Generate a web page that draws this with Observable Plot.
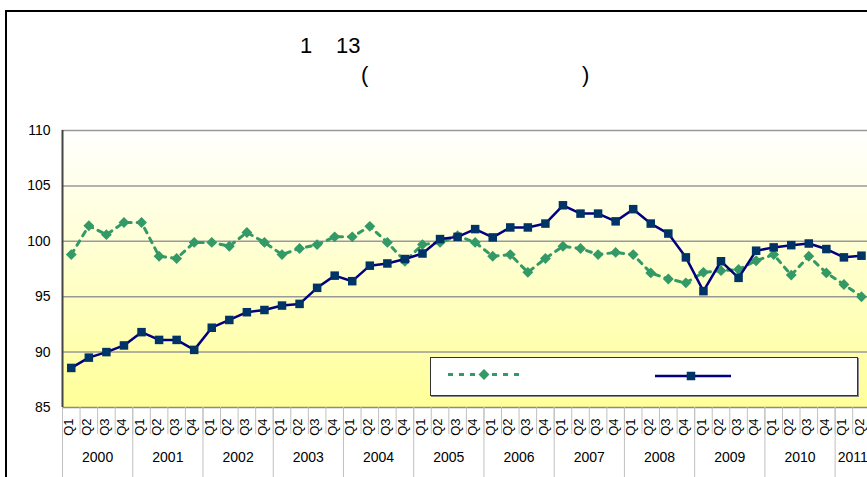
<!DOCTYPE html>
<html>
<head>
<meta charset="utf-8">
<script src="https://cdn.jsdelivr.net/npm/d3@7"></script>
<script src="https://cdn.jsdelivr.net/npm/@observablehq/plot@0.6"></script>
<style>
  html, body { margin: 0; padding: 0; background: #fff; overflow: hidden; }
  #wrap { position: relative; width: 867px; height: 477px; overflow: hidden; font-family: "Liberation Sans", Arial, sans-serif; }
  #chart { position: absolute; left: 0; top: 0; }
  #border { position: absolute; left: 5px; top: 10px; width: 1000px; height: 1000px; border: 2px solid #000; box-sizing: border-box; pointer-events: none; }
  .t { position: absolute; font-size: 22px; color: #000; white-space: pre; line-height: 1; }
  #legend { position: absolute; left: 430px; top: 357px; width: 428px; height: 39px; background: #fff; border: 1.5px solid #333; box-sizing: border-box; box-shadow: 1px 1px 0 #888; }
</style>
</head>
<body>
<div id="wrap">
  <div id="chart"></div>
  <div id="border"></div>
  <div class="t" style="left:300px; top:35px;">1</div>
  <div class="t" style="left:336px; top:35px;">13</div>
  <div class="t" style="left:361px; top:64px;">(</div>
  <div class="t" style="left:582px; top:64px;">)</div>
  <div id="legend"></div>
</div>
<script>
const quarterLabels = ["Q1", "Q2", "Q3", "Q4"];
const years = [2000, 2001, 2002, 2003, 2004, 2005, 2006, 2007, 2008, 2009, 2010, 2011];
// green dashed series (diamonds)
const seriesA = [
  98.8, 101.4, 100.6, 101.7,
  101.7, 98.65, 98.45, 99.9,
  99.9, 99.55, 100.8, 99.9,
  98.8, 99.35, 99.7, 100.4,
  100.4, 101.35, 99.9, 98.2,
  99.7, 99.9, 100.5, 99.9,
  98.65, 98.8, 97.2, 98.45,
  99.55, 99.35, 98.8, 99.0,
  98.8, 97.15, 96.6, 96.25,
  97.2, 97.35, 97.45, 98.25,
  98.8, 96.95, 98.65, 97.15,
  96.1, 95.0
];
// navy solid series (squares)
const seriesB = [
  88.57, 89.5, 90.0, 90.6,
  91.8, 91.1, 91.1, 90.2,
  92.2, 92.9, 93.6, 93.8,
  94.2, 94.35, 95.8, 96.9,
  96.4, 97.8, 98.0, 98.4,
  98.9, 100.2, 100.4, 101.1,
  100.35, 101.25, 101.25, 101.6,
  103.25, 102.5, 102.5, 101.8,
  102.9, 101.6, 100.7, 98.55,
  95.5, 98.2, 96.7, 99.15,
  99.45, 99.65, 99.8, 99.3,
  98.55, 98.7
];
const yTicks = [85, 90, 95, 100, 105, 110];

const colorA = "#339966";
const lineB = "#000080";
const markB = "#003366";

const n = seriesA.length;
const rows = seriesA.map((v, i) => ({
  i, pos: i + 0.5, q: quarterLabels[i % 4], year: years[Math.floor(i / 4)], a: v, b: seriesB[i]
}));
const yearInfo = years.map((y, k) => {
  const count = rows.filter(r => r.year === y).length;
  return {year: y, start: k * 4, center: k * 4 + count / 2};
});
const yearBounds = yearInfo.map(d => d.start);

const font = "'Liberation Sans', Arial, sans-serif";
const chart = Plot.plot({
  width: 867,
  height: 477,
  marginLeft: 62,
  marginRight: 0,
  marginTop: 130,
  marginBottom: 70,
  style: {fontFamily: font, background: "transparent", color: "#000"},
  x: {domain: [0, n], range: [62, 62 + n * 17.56]},
  y: {domain: [85, 110]},
  marks: [
    Plot.frame({fill: "url(#bgGrad)", stroke: "none"}),
    Plot.ruleY(yTicks.filter(t => t > 85), {stroke: "#999", strokeWidth: 1.5}),
    Plot.ruleY([85], {stroke: "#8a8a8a", strokeWidth: 1.5}),
    Plot.axisX({ticks: d3.range(0, n + 1), tickSize: 27, tickFormat: () => "", stroke: "#c0c0c0", label: null}),
    Plot.axisX({ticks: yearBounds, tickSize: 75, tickFormat: () => "", stroke: "#c0c0c0", label: null}),
    Plot.axisX({
      ticks: rows.map(r => r.pos), tickSize: 0, tickPadding: 11, tickRotate: -90, dx: -2,
      tickFormat: d => quarterLabels[Math.floor(d) % 4], fontSize: 13, label: null
    }),
    Plot.axisX({
      ticks: yearInfo.map(d => d.center), tickSize: 0, tickPadding: 45,
      tickFormat: d => String(years[Math.floor(d / 4)]), fontSize: 14, label: null
    }),
    Plot.axisY({ticks: yTicks, tickSize: 0, tickPadding: 12, fontSize: 14, label: null}),
    Plot.ruleX([0], {stroke: "#444", strokeWidth: 2}),
    Plot.line(rows, {x: "pos", y: "a", stroke: colorA, strokeWidth: 3, strokeDasharray: "5,6"}),
    Plot.dot(rows, {x: "pos", y: "a", symbol: "diamond2", r: 4.9, fill: colorA, stroke: "none"}),
    Plot.line(rows, {x: "pos", y: "b", stroke: lineB, strokeWidth: 2.5}),
    Plot.dot(rows, {x: "pos", y: "b", symbol: "square", r: 4.8, fill: markB, stroke: "none"})
  ]
});

const svg = d3.select(chart);
const defs = svg.insert("defs", ":first-child");
const grad = defs.append("linearGradient").attr("id", "bgGrad")
  .attr("x1", 0).attr("y1", 0).attr("x2", 0).attr("y2", 1);
grad.append("stop").attr("offset", "0%").attr("stop-color", "#FFFFFF");
grad.append("stop").attr("offset", "100%").attr("stop-color", "#FFFF99");
document.getElementById("chart").appendChild(chart);

// legend samples (legend text not visible in the reference)
const leg = d3.select("#legend").append("svg").attr("width", 425).attr("height", 36)
  .style("position", "absolute").style("left", "0px").style("top", "0px");
const ly = 16.5;
leg.append("line").attr("x1", 17).attr("x2", 92).attr("y1", ly).attr("y2", ly)
  .attr("stroke", colorA).attr("stroke-width", 3).attr("stroke-dasharray", "5,6");
leg.append("path").attr("d", d3.symbol(d3.symbolDiamond2, Math.PI * 4.9 * 4.9)())
  .attr("transform", `translate(53,${ly})`).attr("fill", colorA);
leg.append("line").attr("x1", 224).attr("x2", 300).attr("y1", ly + 1.5).attr("y2", ly + 1.5)
  .attr("stroke", lineB).attr("stroke-width", 2.5);
leg.append("path").attr("d", d3.symbol(d3.symbolSquare, Math.PI * 4.8 * 4.8)())
  .attr("transform", `translate(260,${ly + 1.5})`).attr("fill", markB);
</script>
</body>
</html>
